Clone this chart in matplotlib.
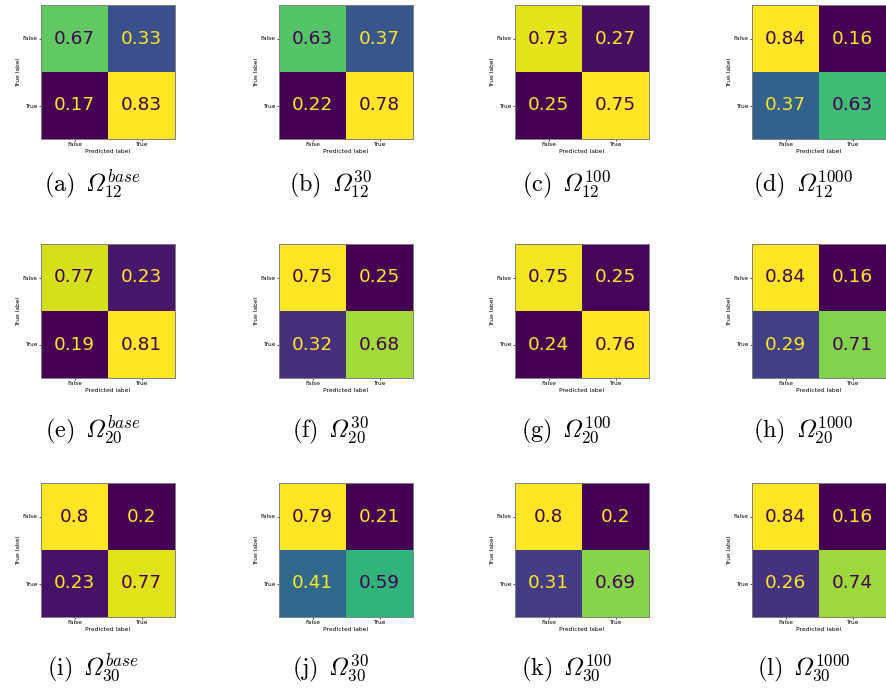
import numpy as np
import matplotlib
matplotlib.use("Agg")
import matplotlib.pyplot as plt

plt.rcParams["mathtext.fontset"] = "cm"

# confusion matrices, rows: Omega_12, Omega_20, Omega_30 ; cols: base, 30, 100, 1000
cm_12_base = [[0.67, 0.33], [0.17, 0.83]]
cm_12_30 = [[0.63, 0.37], [0.22, 0.78]]
cm_12_100 = [[0.73, 0.27], [0.25, 0.75]]
cm_12_1000 = [[0.84, 0.16], [0.37, 0.63]]

cm_20_base = [[0.77, 0.23], [0.19, 0.81]]
cm_20_30 = [[0.75, 0.25], [0.32, 0.68]]
cm_20_100 = [[0.75, 0.25], [0.24, 0.76]]
cm_20_1000 = [[0.84, 0.16], [0.29, 0.71]]

cm_30_base = [[0.8, 0.2], [0.23, 0.77]]
cm_30_30 = [[0.79, 0.21], [0.41, 0.59]]
cm_30_100 = [[0.8, 0.2], [0.31, 0.69]]
cm_30_1000 = [[0.84, 0.16], [0.26, 0.74]]

matrices = [
    [cm_12_base, cm_12_30, cm_12_100, cm_12_1000],
    [cm_20_base, cm_20_30, cm_20_100, cm_20_1000],
    [cm_30_base, cm_30_30, cm_30_100, cm_30_1000],
]
sizes = ["12", "20", "30"]
variants = ["base", "30", "100", "1000"]
letters = "abcdefghijkl"
class_labels = ["False", "True"]

W, H = 886, 688
fig = plt.figure(figsize=(W / 100, H / 100), dpi=100)

col_left = [41, 279, 515, 752]
row_top = [5, 244, 483]
cap_base = [191, 437, 675]
side = 134

OMEGA_IT = "\u00ad"  # italic Omega slot in cmmi10

cmap = plt.get_cmap("viridis")
for r in range(3):
    for c in range(4):
        m = np.array(matrices[r][c])
        x0, y0 = col_left[c], row_top[r]
        ax = fig.add_axes([x0 / W, 1 - (y0 + side) / H, side / W, side / H])
        ax.imshow(m, cmap="viridis", vmin=m.min(), vmax=m.max(), aspect="auto")
        thresh = (m.max() + m.min()) / 2
        for i in range(2):
            for j in range(2):
                col = cmap(0.0) if m[i, j] > thresh else cmap(1.0)
                ax.text(j, i, format(m[i, j], ".2g"), ha="center", va="center",
                        color=col, fontsize=13.3)
        ax.set_xticks([0, 1], class_labels)
        ax.set_yticks([0, 1], class_labels)
        ax.tick_params(labelsize=4.2, length=1.5, width=0.5, pad=1)
        ax.set_xlabel("Predicted label", fontsize=4.3, labelpad=1)
        ax.set_ylabel("True label", fontsize=4.3, labelpad=1)
        for s in ax.spines.values():
            s.set_color("0.5")
            s.set_linewidth(0.7)

        k = r * 4 + c
        cap = (r"$\mathrm{(%s)}\enspace\mathit{%s}^{%s}_{%s}$"
               % (letters[k], OMEGA_IT, variants[c], sizes[r]))
        cx = x0 + side / 2 - 15.5
        fig.text(cx / W, 1 - cap_base[r] / H, cap, ha="center", va="baseline",
                 fontsize=17.5)

fig.savefig("out.png", dpi=100)
